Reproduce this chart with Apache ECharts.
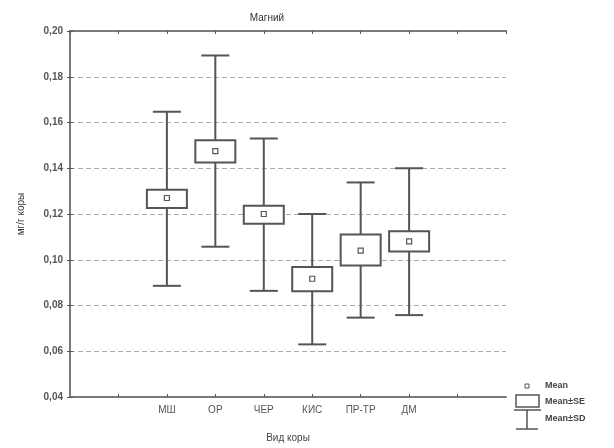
<!DOCTYPE html>
<html><head><meta charset="utf-8">
<script src="https://cdn.jsdelivr.net/npm/echarts@6/dist/echarts.min.js"></script>
<style>html,body{margin:0;padding:0;background:#fff}#c{width:614px;height:448px}</style>
</head><body><div id="c"></div>
<script>
const categories = ['МШ', 'ОР', 'ЧЕР', 'КИС', 'ПР-ТР', 'ДМ'];
const means  = [0.127, 0.1475, 0.120, 0.0917, 0.104, 0.108];
const seLow  = [0.1226, 0.1425, 0.1157, 0.0862, 0.0975, 0.1036];
const seHigh = [0.1306, 0.1522, 0.1236, 0.0968, 0.1110, 0.1125];
const sdLow  = [0.0886, 0.1057, 0.0864, 0.0630, 0.0747, 0.0758];
const sdHigh = [0.1647, 0.1893, 0.1530, 0.1200, 0.1338, 0.1400];
const yTicks = ['0,04','0,06','0,08','0,10','0,12','0,14','0,16','0,18','0,20'];

const offset = 2; // first category sits on the second inner tick
const data = categories.map((c, i) => [i + offset, means[i], seLow[i], seHigh[i], sdLow[i], sdHigh[i]]);
const col = '#555';
const font = 'Liberation Sans';

function renderItem(params, api) {
  const x = api.value(0);
  const pM = api.coord([x, api.value(1)]);
  const pSL = api.coord([x, api.value(2)]);
  const pSH = api.coord([x, api.value(3)]);
  const pDL = api.coord([x, api.value(4)]);
  const pDH = api.coord([x, api.value(5)]);
  const bw = 40, cw = 28, ms = 5;
  const cx = pM[0];
  const ls = {stroke: col, lineWidth: 2, fill: null};
  return {type: 'group', children: [
    {type: 'line', shape: {x1: cx, y1: pDH[1], x2: cx, y2: pSH[1]}, style: ls},
    {type: 'line', shape: {x1: cx, y1: pSL[1], x2: cx, y2: pDL[1]}, style: ls},
    {type: 'line', shape: {x1: cx - cw/2, y1: pDH[1], x2: cx + cw/2, y2: pDH[1]}, style: ls},
    {type: 'line', shape: {x1: cx - cw/2, y1: pDL[1], x2: cx + cw/2, y2: pDL[1]}, style: ls},
    {type: 'rect', shape: {x: cx - bw/2, y: pSH[1], width: bw, height: pSL[1] - pSH[1]}, style: {stroke: col, lineWidth: 2, fill: '#fff'}},
    {type: 'rect', shape: {x: cx - ms/2, y: pM[1] - ms/2, width: ms, height: ms}, style: {stroke: col, lineWidth: 1.2, fill: '#fff'}}
  ]};
}

const chart = echarts.init(document.getElementById('c'));
const axisLine = {show: true, lineStyle: {color: '#7a7a7a', width: 2}};
chart.setOption({
  animation: false,
  textStyle: {fontFamily: font},
  title: {text: 'Магний', left: 262, top: 8, textAlign: 'center',
    textStyle: {fontSize: 10, fontWeight: 'normal', color: '#333', fontFamily: font}},
  grid: {left: 70, right: 108, top: 31, bottom: 49},
  xAxis: [{
    type: 'value', min: 0, max: 9, interval: 1,
    name: 'Вид коры', nameLocation: 'middle', nameGap: 36,
    nameTextStyle: {fontSize: 10, color: '#444'},
    axisLine: axisLine,
    axisTick: {show: true, inside: true, length: 3, lineStyle: {color: '#555'}},
    splitLine: {show: false},
    axisLabel: {fontSize: 10, color: '#555', margin: 8, showMinLabel: false, showMaxLabel: false,
      formatter: v => categories[v - offset] || ''}
  }, {
    type: 'value', position: 'top', min: 0, max: 9, interval: 1,
    axisLine: axisLine,
    axisTick: {show: true, inside: true, length: 3, lineStyle: {color: '#555'}},
    axisLabel: {show: false}, splitLine: {show: false}
  }],
  yAxis: [{
    type: 'value', min: 0.04, max: 0.20, interval: 0.02,
    name: 'мг/г коры', nameLocation: 'middle', nameGap: 44, nameRotate: 90,
    nameTextStyle: {fontSize: 10, color: '#333'},
    axisLine: axisLine,
    axisTick: {show: true, inside: true, length: 3, lineStyle: {color: '#555'}},
    axisLabel: {fontSize: 10, color: '#555', fontWeight: 'bold', margin: 7,
      formatter: v => yTicks[Math.round((v - 0.04) / 0.02)]},
    splitLine: {show: true, lineStyle: {color: '#aaa', type: [5, 3], width: 1}}
  }, {
    type: 'value', position: 'right', min: 0.04, max: 0.20, interval: 0.02,
    axisLine: axisLine,
    axisTick: {show: true, inside: true, length: 3, lineStyle: {color: '#555'}},
    axisLabel: {show: false}, splitLine: {show: false}
  }],
  series: [{
    type: 'custom', renderItem: renderItem, data: data,
    encode: {x: 0, y: [1, 2, 3, 4, 5]}, z: 3
  }],
  graphic: [
    {type: 'rect', shape: {x: 525, y: 384, width: 4, height: 4}, style: {stroke: col, lineWidth: 1, fill: '#fff'}},
    {type: 'text', style: {x: 545, y: 386, text: 'Mean', fontSize: 9, fontWeight: 'bold', fill: '#444', fontFamily: font, textVerticalAlign: 'middle'}},
    {type: 'rect', shape: {x: 516, y: 395, width: 23, height: 12}, style: {stroke: col, lineWidth: 1.5, fill: '#fff'}},
    {type: 'line', shape: {x1: 514, y1: 410, x2: 541, y2: 410}, style: {stroke: col, lineWidth: 1.5}},
    {type: 'line', shape: {x1: 527, y1: 410, x2: 527, y2: 429}, style: {stroke: col, lineWidth: 1.5}},
    {type: 'line', shape: {x1: 516, y1: 429, x2: 538, y2: 429}, style: {stroke: col, lineWidth: 1.5}},
    {type: 'text', style: {x: 545, y: 402, text: 'Mean±SE', fontSize: 9, fontWeight: 'bold', fill: '#444', fontFamily: font, textVerticalAlign: 'middle'}},
    {type: 'text', style: {x: 545, y: 419, text: 'Mean±SD', fontSize: 9, fontWeight: 'bold', fill: '#444', fontFamily: font, textVerticalAlign: 'middle'}}
  ]
});
</script></body></html>
